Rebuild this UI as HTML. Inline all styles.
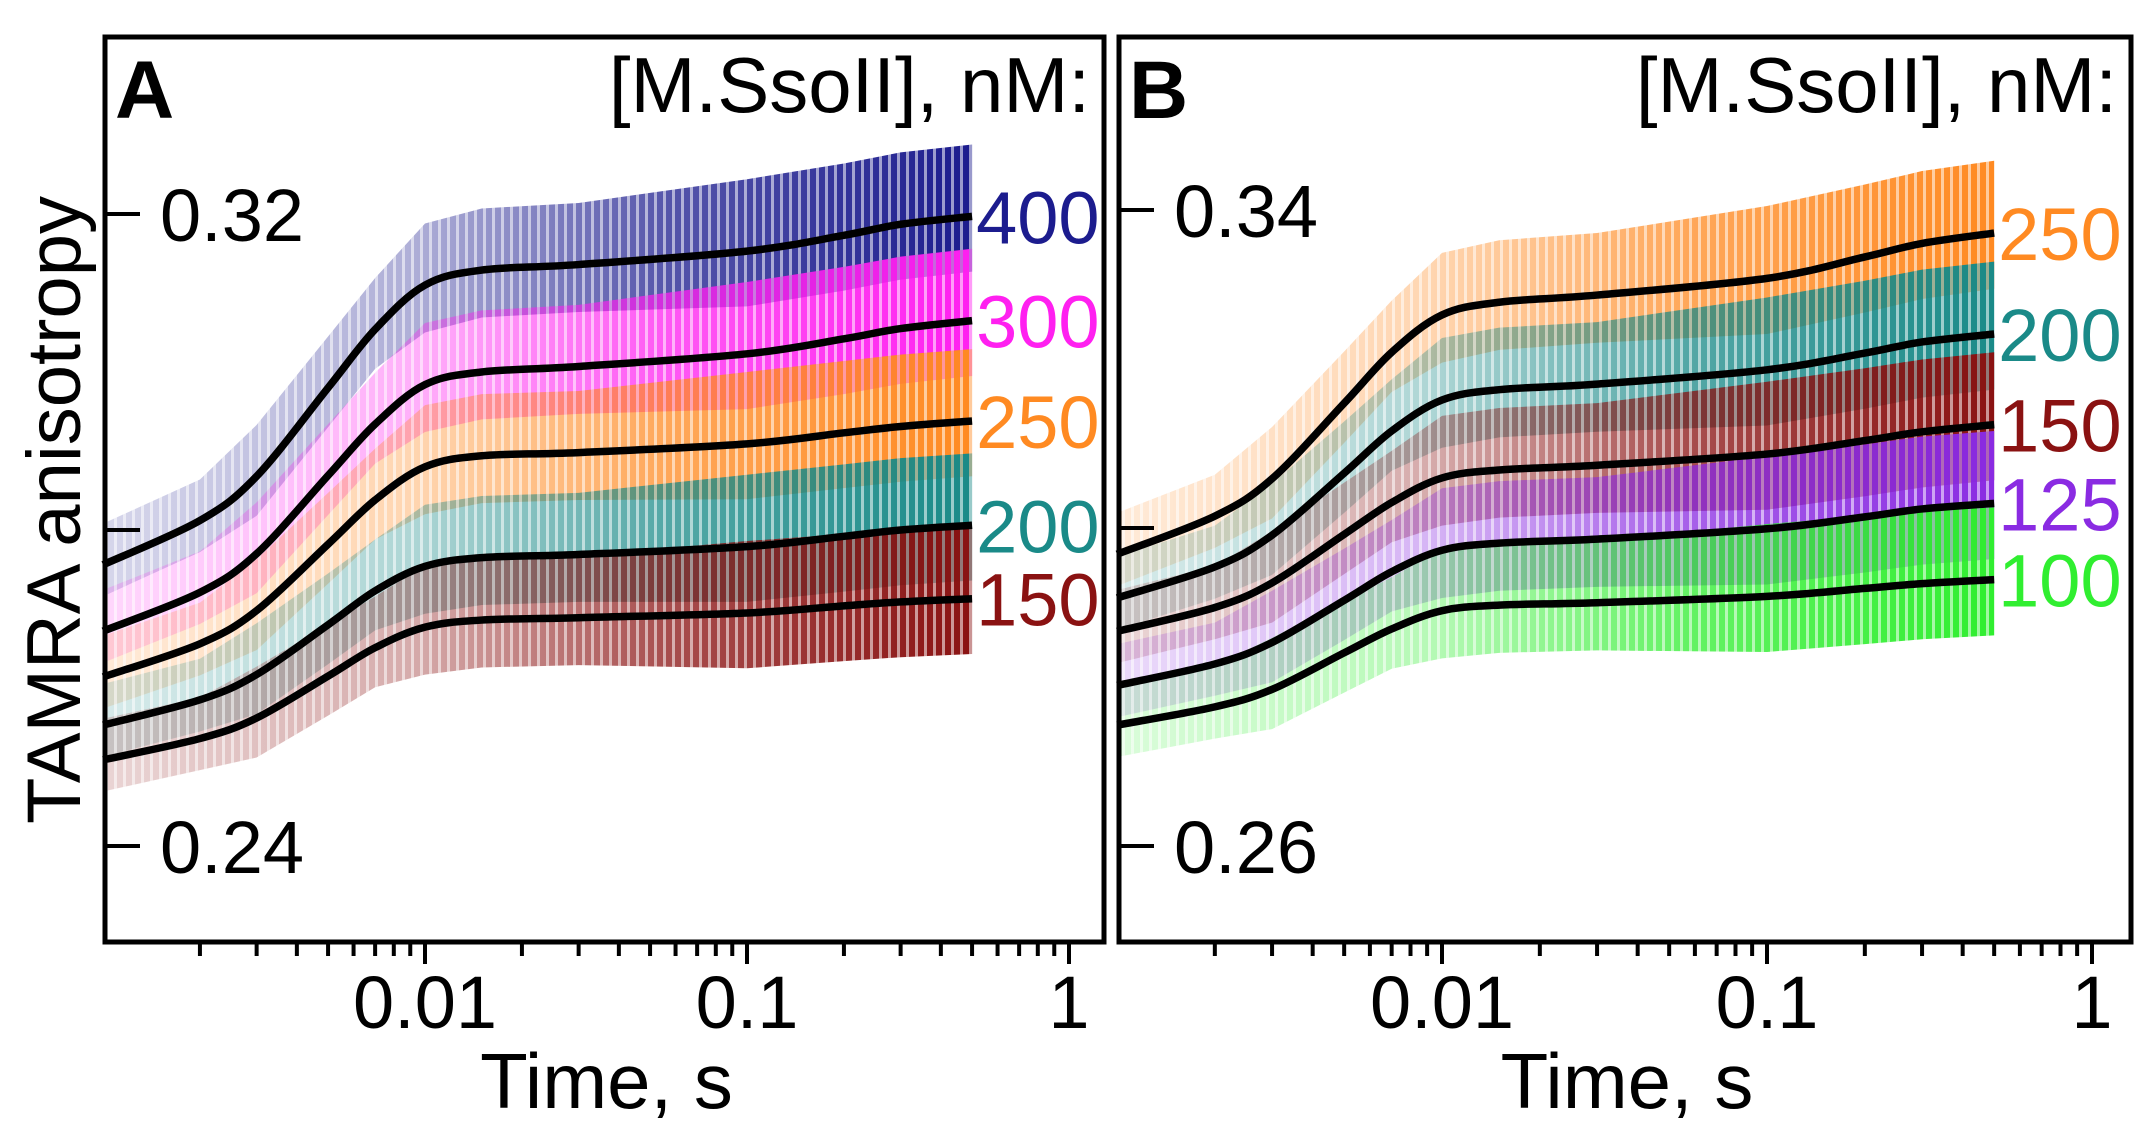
<!DOCTYPE html>
<html><head><meta charset="utf-8"><style>
html,body{margin:0;padding:0;background:#fff;}
svg{display:block;font-family:"Liberation Sans",Arial,sans-serif;}
</style></head><body>
<svg id="chart" width="2148" height="1143" viewBox="0 0 2148 1143"></svg>
<script>
// ---- data ----
const fitTimes = [0.001,0.002,0.003,0.005,0.007,0.01,0.015,0.03,0.1,0.2,0.3,0.5];
const noiseAmp = [0.004,0.004,0.005,0.005,0.005,0.006,0.006,0.006,0.007,0.007,0.007,0.007];
const xTickLabels = ["0.01","0.1","1"];
const xTickValues = [0.01,0.1,1];
const seriesA = ["400","300","250","200","150"];
const colorsA = ["#1c1c8e","#ff20f0","#ff8a22","#1a8a88","#8a1212"];
const fitA400 = [.2756,.2812,.2868,.2980,.3054,.3110,.3129,.3136,.3153,.3173,.3187,.3197];
const fitA300 = [.2672,.2721,.2770,.2869,.2934,.2984,.3000,.3007,.3023,.3042,.3055,.3065];
const fitA250 = [.2614,.2656,.2698,.2782,.2838,.2880,.2894,.2898,.2909,.2923,.2931,.2938];
const fitA200 = [.2553,.2585,.2617,.2680,.2723,.2754,.2765,.2769,.2779,.2792,.2800,.2806];
const fitA150 = [.2509,.2536,.2562,.2615,.2651,.2677,.2686,.2689,.2695,.2704,.2709,.2713];
const yTicksA = [0.32,0.28,0.24];
const yTickLabelsA = ["0.32","","0.24"];
const seriesB = ["250","200","150","125","100"];
const colorsB = ["#ff8a22","#1a8a88","#8a1212","#8a2be2","#30ee30"];
const fitB250 = [.2967,.3015,.3062,.3157,.3221,.3268,.3284,.3293,.3314,.3341,.3358,.3371];
const fitB200 = [.2912,.2951,.2991,.3069,.3122,.3161,.3174,.3181,.3199,.3220,.3234,.3244];
const fitB150 = [.2870,.2900,.2931,.2992,.3032,.3063,.3073,.3079,.3093,.3110,.3121,.3130];
const fitB125 = [.2802,.2829,.2856,.2909,.2945,.2972,.2981,.2986,.2999,.3014,.3024,.3031];
const fitB100 = [.2752,.2775,.2797,.2843,.2873,.2896,.2903,.2906,.2914,.2924,.2930,.2935];
const yTicksB = [0.34,0.30,0.26];
const yTickLabelsB = ["0.34","","0.26"];

const NS="http://www.w3.org/2000/svg";
const svg=document.getElementById('chart');
function mk(tag,attrs,parent){const e=document.createElementNS(NS,tag);for(const k in attrs)e.setAttribute(k,attrs[k]);(parent||svg).appendChild(e);return e;}

const defs=mk('defs',{});
// vertical stripe pattern for noisy texture
const pat=mk('pattern',{id:'stripes',width:9,height:40,patternUnits:'userSpaceOnUse'},defs);
mk('rect',{x:0,y:0,width:6,height:40,fill:'#fff'},pat);
mk('rect',{x:6,y:0,width:3,height:40,fill:'#fff','fill-opacity':'0.45'},pat);

function panel(cfg){
  const g=mk('g',{});
  
  
  const xs=t=>cfg.x01+cfg.dec*Math.log10(t/0.01);
  const ys=v=>cfg.y0+(cfg.v0-v)*cfg.k;
  const gid='fade'+cfg.id;
  const lg=mk('linearGradient',{id:gid,x1:cfg.left,x2:xs(0.5),y1:0,y2:0,gradientUnits:'userSpaceOnUse'},defs);
  mk('stop',{offset:'0','stop-color':'#fff','stop-opacity':'0.18'},lg);
  mk('stop',{offset:'0.35','stop-color':'#fff','stop-opacity':'0.35'},lg);
  mk('stop',{offset:'0.65','stop-color':'#fff','stop-opacity':'0.75'},lg);
  mk('stop',{offset:'1','stop-color':'#fff','stop-opacity':'1'},lg);
  const mid='m'+cfg.id;
  const mask=mk('mask',{id:mid},defs);
  mk('rect',{x:0,y:0,width:2148,height:1143,fill:'url(#'+gid+')'},mask);
  const mid2='ms'+cfg.id;
  const mask2=mk('mask',{id:mid2},defs);
  mk('rect',{x:0,y:0,width:2148,height:1143,fill:'url(#stripes)'},mask2);
  cfg.fits.forEach((f,i)=>{
    let up=[],lo=[];
    fitTimes.forEach((t,j)=>{up.push(xs(t)+','+ys(f[j]+noiseAmp[j]*1.3));lo.push(xs(t)+','+ys(f[j]-noiseAmp[j]));});
    const gg=mk('g',{mask:'url(#'+mid2+')'},g);
    const p=mk('polygon',{points:up.concat(lo.reverse()).join(' '),fill:cfg.colors[i],mask:'url(#'+mid+')'},gg);
    
    
  });
  cfg.fits.forEach((f,i)=>{
    const pts=fitTimes.map((t,j)=>[xs(t),ys(f[j])]);
    let d='M'+pts[0][0]+','+pts[0][1];
    for(let j=0;j<pts.length-1;j++){
      const p0=pts[Math.max(0,j-1)],p1=pts[j],p2=pts[j+1],p3=pts[Math.min(pts.length-1,j+2)];
      const c1x=p1[0]+(p2[0]-p0[0])/6,c1y=p1[1]+(p2[1]-p0[1])/6;
      const c2x=p2[0]-(p3[0]-p1[0])/6,c2y=p2[1]-(p3[1]-p1[1])/6;
      d+=` C${c1x},${c1y} ${c2x},${c2y} ${p2[0]},${p2[1]}`;
    }
    const path=mk('path',{d:d,fill:'none',stroke:'#000','stroke-width':7.5},g);
    
    
    const lab=mk('text',{x:xs(0.5)+4,y:ys(f[f.length-1])+27,'font-size':74,fill:cfg.colors[i]},g);
    lab.textContent=cfg.series[i];
    
    
  });
  const fr=mk('rect',{x:cfg.left,y:37,width:cfg.right-cfg.left,height:905,fill:'none',stroke:'#000','stroke-width':5},g);
  
  
  cfg.yt.forEach((v,i)=>{
    const y=ys(v);
    mk('line',{x1:cfg.left,x2:cfg.left+35,y1:y,y2:y,stroke:'#000','stroke-width':4},g);
    if(cfg.ytl[i]){
      const t=mk('text',{x:cfg.left+55,y:y+27,'font-size':74,fill:'#000'},g);
      t.textContent=cfg.ytl[i];
      
      
    }
  });
  for(let dcd=-3;dcd<=0;dcd++){
    for(let m=1;m<=9;m++){
      const t=m*Math.pow(10,dcd);
      const x=xs(t);
      if(x<cfg.left+5||x>cfg.right-5)continue;
      mk('line',{x1:x,x2:x,y1:942,y2:m===1?964:956,stroke:'#000','stroke-width':4},g);
    }
  }
  xTickValues.forEach((v,i)=>{
    const t=mk('text',{x:xs(v),y:1028,'font-size':74,'text-anchor':'middle',fill:'#000'},g);
    t.textContent=xTickLabels[i];
    
    
  });
  const xt=mk('text',{x:(cfg.left+cfg.right)/2+2,y:1108,'font-size':78,'text-anchor':'middle',fill:'#000'},g);
  xt.textContent='Time, s';
  
  
  const pl=mk('text',{x:cfg.left+10,y:118,'font-size':82,'font-weight':'bold',fill:'#000'},g);
  pl.textContent=cfg.id;
  
  
  const lt=mk('text',{x:cfg.right-14,y:112,'font-size':78,'text-anchor':'end',fill:'#000'},g);
  lt.textContent='[M.SsoII], nM:';
  
  
}
panel({id:'A',name:'panel-a',left:105,right:1104,x01:425,dec:322,y0:214,v0:0.32,k:7900,
  fits:[fitA400,fitA300,fitA250,fitA200,fitA150],series:seriesA,colors:colorsA,yt:yTicksA,ytl:yTickLabelsA});
panel({id:'B',name:'panel-b',left:1119,right:2131,x01:1442,dec:325,y0:210,v0:0.34,k:7950,
  fits:[fitB250,fitB200,fitB150,fitB125,fitB100],series:seriesB,colors:colorsB,yt:yTicksB,ytl:yTickLabelsB});
const yt=mk('text',{x:0,y:0,'font-size':76,'text-anchor':'middle',fill:'#000',transform:'translate(80,510) rotate(-90)'});
yt.textContent='TAMRA anisotropy';


</script>
</body></html>
